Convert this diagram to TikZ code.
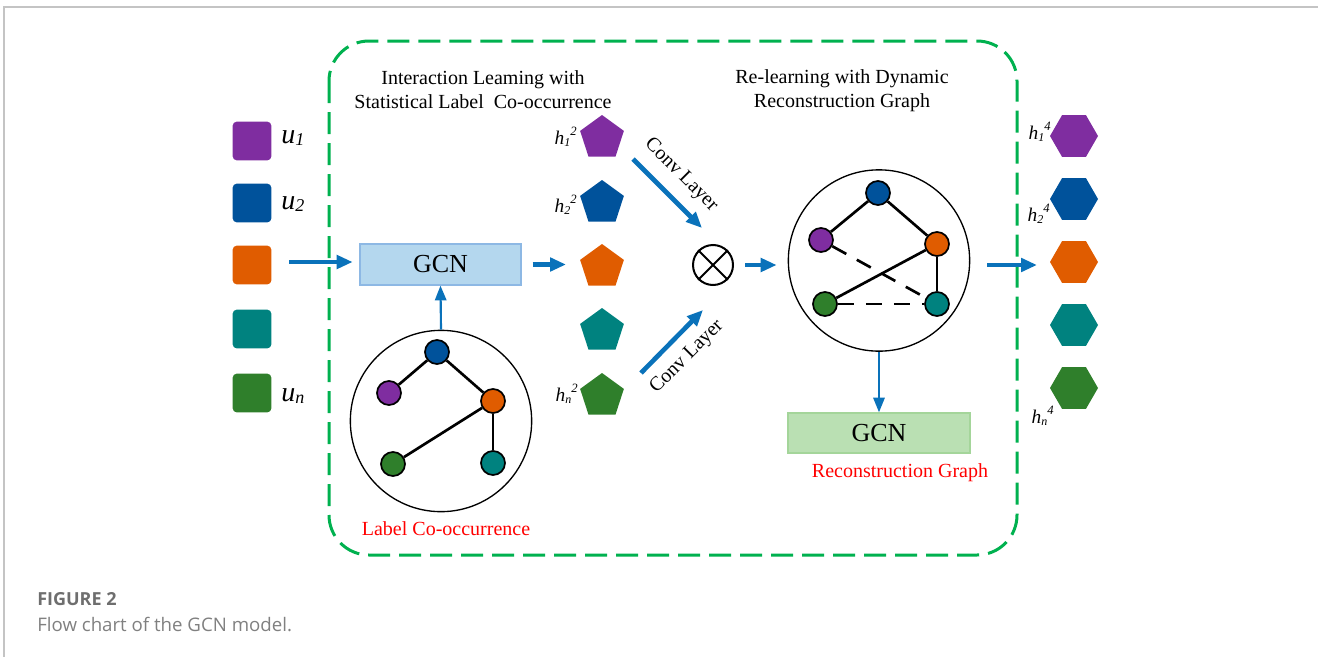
\documentclass[tikz,border=0pt]{standalone}
\usepackage{fontspec}
\setmainfont{Liberation Serif}
\newfontfamily\capfont{Open Sans}
\usetikzlibrary{arrows.meta,shapes.geometric}
\definecolor{cpurple}{HTML}{7F2DA0}
\definecolor{cblue}{HTML}{00529B}
\definecolor{corange}{HTML}{E05C00}
\definecolor{cteal}{HTML}{00827F}
\definecolor{cgreen}{HTML}{2F7F2B}
\definecolor{arrowblue}{HTML}{0A72BA}
\definecolor{dashgreen}{HTML}{00B14F}
\definecolor{gcnblue}{HTML}{B4D7EE}
\definecolor{gcnblueb}{HTML}{8DB8E4}
\definecolor{gcngreen}{HTML}{BAE0B3}
\definecolor{gcngreenb}{HTML}{A4D59A}
\definecolor{framegray}{HTML}{C4C4C4}
\definecolor{capdark}{HTML}{6E6E6E}
\definecolor{caplight}{HTML}{808080}
\newcommand{\ulab}[1]{{\fontsize{21}{21}\selectfont\itshape u}\raisebox{-2pt}{\fontsize{13.5}{13.5}\selectfont\itshape #1}}
\newcommand{\hlab}[2]{{\fontsize{14.5}{14.5}\selectfont\itshape h}\raisebox{-1.5pt}{\fontsize{9}{9}\selectfont\itshape #1}\raisebox{6.5pt}{\fontsize{9.5}{9.5}\selectfont\itshape #2}}
\tikzset{
  sq/.style={rectangle, rounded corners=3pt, minimum size=29pt, inner sep=0pt},
  penta/.style={regular polygon, regular polygon sides=5, minimum size=34.5pt, inner sep=0pt},
  hexa/.style={regular polygon, regular polygon sides=6, minimum size=36pt, inner sep=0pt},
  gcnbox/.style={rectangle, line width=1pt, inner sep=0pt, font=\fontsize{19.5}{20}\selectfont},
  bigcirc/.style={circle, draw=black, line width=1pt, minimum size=136pt, inner sep=0pt},
  gnode/.style={circle, draw=black, line width=1.3pt, minimum size=18pt, inner sep=0pt},
  gedge/.style={line width=2pt, black},
  gdash/.style={line width=2pt, black, dash pattern=on 12pt off 9pt},
  thickarrow/.style={arrowblue, line width=3.5pt, -{Triangle[length=12pt,width=10pt]}},
  thinarrow/.style={arrowblue, line width=1.6pt, -{Triangle[length=11pt,width=8.5pt]}},
  titletext/.style={align=center, font=\fontsize{15}{18}\selectfont, inner sep=0pt},
  redlab/.style={text=red, font=\fontsize{15}{18}\selectfont, inner sep=0pt},
  convlab/.style={font=\fontsize{15}{18}\selectfont, inner sep=0pt},
  lab/.style={inner sep=0pt}
}
\begin{document}
\begin{tikzpicture}[x=0.75pt,y=-0.75pt]
\useasboundingbox (0,0) rectangle (1318,657);
% frame
\draw[framegray, line width=1.1pt] (4,657) -- (4,7) -- (1318,7);
% dashed container
\draw[dashgreen, line width=2.25pt, dash pattern=on 16.5pt off 6.75pt, rounded corners=30pt] (329,41) rectangle (1017,555);
% titles
\node[titletext] (t1) at (483,90) {Interaction Leaming with\\Statistical Label~ Co-occurrence};
\node[titletext] (t2) at (842,90.5) {Re-learning with Dynamic\\Reconstruction Graph};
% input squares
\node[sq, fill=cpurple] (u1) at (252,141) {};
\node[sq, fill=cblue] (u2) at (252,203) {};
\node[sq, fill=corange] (u3) at (252,265) {};
\node[sq, fill=cteal] (u4) at (252,329) {};
\node[sq, fill=cgreen] (u5) at (252,393) {};
\node[lab, anchor=west] (lu1) at (281,138) {\ulab{1}};
\node[lab, anchor=west] (lu2) at (281,204) {\ulab{2}};
\node[lab, anchor=west] (lu5) at (281,396) {\ulab{n}};
% GCN 1
\node[gcnbox, fill=gcnblue, draw=gcnblueb, minimum width=120.75pt, minimum height=30.75pt] (gcn1) at (440.5,264.5) {GCN};
\coordinate (inA) at (289,262);
\draw[thickarrow, shorten >=5pt] (inA) -- (inA -| gcn1.west);
% label co-occurrence graph
\node[bigcirc] (c1) at (441,421) {};
\node[gnode, fill=cblue] (b1) at (437,352) {};
\node[gnode, fill=cpurple] (p1) at (389,393) {};
\node[gnode, fill=corange] (o1) at (493,401) {};
\node[gnode, fill=cgreen] (g1) at (393,464) {};
\node[gnode, fill=cteal] (e1) at (493,463) {};
\draw[gedge] (b1) -- (p1);
\draw[gedge] (b1) -- (o1);
\draw[gedge] (o1) -- (g1);
\draw[gedge] (o1) -- (e1);
\draw[thinarrow] (c1.north) -- (gcn1.south);
\node[redlab] (l1) at (446,529) {Label Co-occurrence};
% pentagons
\node[penta, fill=cpurple] (q1) at (602,138) {};
\node[penta, fill=cblue] (q2) at (602,203) {};
\node[penta, fill=corange] (q3) at (602,267) {};
\node[penta, fill=cteal] (q4) at (602,331) {};
\node[penta, fill=cgreen] (q5) at (602,396) {};
\node[lab, anchor=east] (lq1) at (577,137) {\hlab{1}{2}};
\node[lab, anchor=east] (lq2) at (577,205) {\hlab{2}{2}};
\node[lab, anchor=east] (lq5) at (578,394) {\hlab{n}{2}};
\draw[thickarrow, shorten <=8.25pt, shorten >=27pt] (gcn1.east) -- (gcn1.east -| q3);
% otimes
\node[circle, draw=black, line width=1.5pt, minimum size=30pt, inner sep=0pt] (ot) at (713,265) {};
\draw[line width=1.5pt] (ot.north west) -- (ot.south east);
\draw[line width=1.5pt] (ot.north east) -- (ot.south west);
% conv layer arrows
\coordinate (cv1s) at (633,159);
\coordinate (cv1e) at (702,228);
\draw[thickarrow] (cv1s) -- (cv1e);
\node[convlab, rotate=-45] (cl1) at (681,175) {Conv Layer};
\coordinate (cv2s) at (641,373);
\coordinate (cv2e) at (703,310);
\draw[thickarrow] (cv2s) -- (cv2e);
\node[convlab, rotate=45] (cl2) at (687,357) {Conv Layer};
% reconstruction graph
\node[bigcirc] (c2) at (879,260.5) {};
\draw[thickarrow, shorten <=8.25pt, shorten >=8.25pt] (ot.east) -- (ot.east -| c2.west);
\node[gnode, fill=cblue] (b2) at (878,193) {};
\node[gnode, fill=cpurple] (p2) at (821,240) {};
\node[gnode, fill=corange] (o2) at (937,244) {};
\node[gnode, fill=cgreen] (g2) at (825,304) {};
\node[gnode, fill=cteal] (e2) at (937,304) {};
\draw[gedge] (b2) -- (p2);
\draw[gedge] (b2) -- (o2);
\draw[gedge] (o2) -- (g2);
\draw[gedge] (o2) -- (e2);
\draw[gdash] (p2) -- (e2);
\draw[gdash] (g2) -- (e2);
% GCN 2
\node[gcnbox, fill=gcngreen, draw=gcngreenb, minimum width=136.5pt, minimum height=30pt] (gcn2) at (879,433) {GCN};
\draw[thinarrow] (c2.south) -- (gcn2.north);
\node[redlab] (l2) at (900,473) {Reconstruction Graph};
% hexagons
\node[hexa, fill=cpurple] (hx1) at (1074,136) {};
\node[hexa, fill=cblue] (hx2) at (1074,199) {};
\node[hexa, fill=corange] (hx3) at (1074,262) {};
\node[hexa, fill=cteal] (hx4) at (1074,325) {};
\node[hexa, fill=cgreen] (hx5) at (1074,388) {};
\node[lab, anchor=east] (lh1) at (1051,132) {\hlab{1}{4}};
\node[lab, anchor=east] (lh2) at (1050,214) {\hlab{2}{4}};
\node[lab, anchor=east] (lh5) at (1054,416) {\hlab{n}{4}};
\coordinate (outA) at (987,265);
\draw[thickarrow, shorten >=27.75pt] (outA) -- (outA -| hx3);
% caption
\node[anchor=west, inner sep=0pt, text=capdark, font=\capfont\bfseries\fontsize{13.5}{16}\selectfont] (cap1) at (37,599) {FIGURE 2};
\node[anchor=west, inner sep=0pt, text=caplight, font=\capfont\fontsize{14}{16}\selectfont] (cap2) at (37,624) {Flow chart of the GCN model.};
\end{tikzpicture}
\end{document}
